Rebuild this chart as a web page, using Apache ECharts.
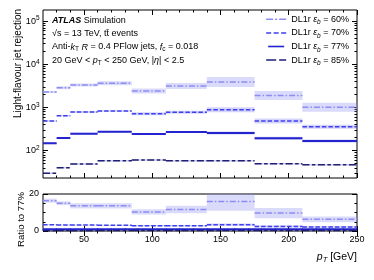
<!DOCTYPE html>
<html><head><meta charset="utf-8">
<script src="https://cdn.jsdelivr.net/npm/echarts@6.0.0/dist/echarts.min.js"></script>
<style>html,body{margin:0;padding:0;background:#fff;}#chart{width:374px;height:280px;}</style>
</head><body><div id="chart"></div>
<script>
// ---- data ----
const binEdges = [20, 30, 40, 60, 85, 110, 140, 175, 210, 250];

const rej60   = [2285, 2870, 3320, 3630, 2410, 3150, 3890, 1895, 1010];
const rej60Lo = [2165, 2650, 3065, 3265, 2110, 2685, 2980, 1490, 795];
const rej60Hi = [2410, 3110, 3595, 4035, 2755, 3695, 5075, 2410, 1285];
const rej70   = [487, 645, 787, 830, 719, 773, 890, 487, 359];
const rej70Lo = [466, 618, 754, 795, 664, 714, 779, 426, 323];
const rej70Hi = [508, 673, 822, 866, 779, 837, 1017, 557, 399];
const rej77   = [148, 197, 248, 275, 244, 271, 257, 194, 168];
const rej77Lo = [142, 189, 238, 263, 233, 259, 237, 179, 155];
const rej77Hi = [155, 206, 259, 287, 255, 283, 278, 210, 182];
const rej85   = [30, 40.4, 49.2, 58.8, 61, 58.8, 58.8, 50, 47.4];
const rej85Lo = [28.8, 38.8, 47.3, 56.5, 58.6, 56.5, 56.5, 48, 45.5];
const rej85Hi = [31.2, 42, 51.2, 61.2, 63.4, 61.2, 61.2, 52, 49.3];

const ratio60   = [16.4, 15.0, 13.6, 13.6, 10.3, 11.6, 15.9, 9.7, 6.3];
const ratio60Lo = [15.3, 14.0, 12.2, 12.2, 8.9, 9.6, 11.0, 6.9, 4.7];
const ratio60Hi = [17.5, 16.0, 15.0, 15.0, 11.7, 13.6, 20.8, 12.5, 7.9];
const ratio70   = [3.4, 3.3, 3.2, 3.1, 2.9, 2.9, 3.4, 2.5, 2.2];
const ratio70Lo = [3.1, 3.0, 2.9, 2.8, 2.5, 2.5, 2.8, 1.9, 1.7];
const ratio70Hi = [3.7, 3.6, 3.5, 3.4, 3.3, 3.3, 4.0, 3.1, 2.7];
const ratio77   = [1, 1, 1, 1, 1, 1, 1, 1, 1];
const ratio77Lo = [0.95, 0.95, 0.95, 0.95, 0.95, 0.95, 0.92, 0.92, 0.92];
const ratio77Hi = [1.05, 1.05, 1.05, 1.05, 1.05, 1.05, 1.08, 1.08, 1.08];
const ratio85   = [0.20, 0.21, 0.20, 0.21, 0.25, 0.22, 0.23, 0.26, 0.28];

const xMajorTicks = [50, 100, 150, 200, 250];
const xMinorTicks = [30, 40, 60, 70, 80, 90, 110, 120, 130, 140, 160, 170, 180, 190, 210, 220, 230, 240];
const yMajorTicks = [100, 1000, 10000, 100000];
const yMinorTicks = [30, 40, 50, 60, 70, 80, 90, 200, 300, 400, 500, 600, 700, 800, 900,
  2000, 3000, 4000, 5000, 6000, 7000, 8000, 9000, 20000, 30000, 40000, 50000, 60000, 70000, 80000, 90000];
const ratioMajorTicks = [0, 20];
const ratioMinorTicks = [5, 10, 15];

const legendNames = ['DL1r eb = 60%', 'DL1r eb = 70%', 'DL1r eb = 77%', 'DL1r eb = 85%'];
const legendPct = ['60%', '70%', '77%', '85%'];

// ---- styles ----
const F = 'Liberation Sans, Arial, Helvetica, sans-serif';
const C60 = '#8c8cf2', C70 = '#3f3fee', C77 = '#2323cf', C85 = '#1e1e78';
const B60 = 'rgba(140,140,242,0.32)', B70 = 'rgba(63,63,238,0.22)', B77 = 'rgba(35,35,207,0.22)', B85 = 'rgba(30,30,120,0.22)';
const D60 = [6, 2, 1.5, 2], D70 = [4.5, 2], D77 = 'solid', D85 = [7, 2.5, 3.5, 2.5];

const YMIN = 23.3, YMAX = 180700;

function bandSeries(xi, yi, lo, hi, color) {
  const data = lo.map((l, i) => [binEdges[i], binEdges[i + 1], l, hi[i]]);
  return {
    type: 'custom', xAxisIndex: xi, yAxisIndex: yi, clip: true, silent: true, z: 1,
    encode: { x: [0, 1], y: [2, 3] },
    renderItem: function (params, api) {
      const a = api.coord([api.value(0), api.value(3)]);
      const b = api.coord([api.value(1), api.value(2)]);
      return { type: 'rect', shape: { x: a[0], y: a[1], width: b[0] - a[0], height: b[1] - a[1] }, style: { fill: color } };
    },
    data: data
  };
}
function stepSeries(name, xi, yi, vals, color, width, dash) {
  const data = [];
  vals.forEach((v, i) => {
    data.push([binEdges[i], v]);
    data.push([binEdges[i + 1], v]);
    data.push([binEdges[i + 1], '-']);
  });
  return {
    type: 'line', name: name, xAxisIndex: xi, yAxisIndex: yi, data: data, symbol: 'none', showSymbol: false,
    color: color, lineStyle: { color: color, width: width, type: dash, cap: 'butt' }, z: 3, silent: true, connectNulls: false
  };
}

function xAx(gi, pos, ticks, len, labels) {
  return {
    type: 'value', gridIndex: gi, position: pos, min: 20, max: 250,
    axisLine: { show: false }, splitLine: { show: false },
    axisTick: { show: true, inside: true, length: len, customValues: ticks, lineStyle: { color: '#000', width: 1 } },
    axisLabel: labels ? { show: true, customValues: xMajorTicks, margin: 4, fontSize: 9, fontFamily: F, color: '#000' } : { show: false }
  };
}
const supRich = {
  b: { fontFamily: F, fontSize: 9, lineHeight: 12, color: '#000' },
  sup: { fontFamily: F, fontSize: 6.5, verticalAlign: 'top', color: '#000' }
};
function yLog(pos, ticks, len, labels) {
  return {
    type: 'log', logBase: 10, gridIndex: 0, position: pos, min: YMIN, max: YMAX,
    axisLine: { show: false }, splitLine: { show: false }, minorTick: { show: false },
    axisTick: { show: true, inside: true, length: len, customValues: ticks, lineStyle: { color: '#000', width: 1 } },
    axisLabel: labels ? {
      show: true, customValues: yMajorTicks, margin: 3.5, color: '#000',
      formatter: v => '{b|10}{sup|' + Math.round(Math.log10(v)) + '}', rich: supRich
    } : { show: false }
  };
}
function yRatio(pos, ticks, len, labels) {
  return {
    type: 'value', gridIndex: 1, position: pos, min: 0, max: 20,
    axisLine: { show: false }, splitLine: { show: false },
    axisTick: { show: true, inside: true, length: len, customValues: ticks, lineStyle: { color: '#000', width: 1 } },
    axisLabel: labels ? { show: true, customValues: ratioMajorTicks, margin: 4, fontSize: 9, fontFamily: F, color: '#000' } : { show: false }
  };
}

const txt = {
  n: { fontFamily: F, fontSize: 9, lineHeight: 12, fill: '#000' },
  b: { fontFamily: F, fontSize: 9, lineHeight: 12, fontWeight: 'bold', fontStyle: 'italic', fill: '#000' },
  i: { fontFamily: F, fontSize: 9, lineHeight: 12, fontStyle: 'italic', fill: '#000' },
  s: { fontFamily: F, fontSize: 6.5, verticalAlign: 'bottom', fill: '#000' },
  si: { fontFamily: F, fontSize: 6.5, verticalAlign: 'bottom', fontStyle: 'italic', fill: '#000' },
  N: { fontFamily: F, fontSize: 10.5, lineHeight: 13, fill: '#000' },
  I: { fontFamily: F, fontSize: 10.5, lineHeight: 13, fontStyle: 'italic', fill: '#000' },
  SI: { fontFamily: F, fontSize: 7.5, verticalAlign: 'bottom', fontStyle: 'italic', fill: '#000' }
};
function label(x, y, text) {
  return { type: 'text', x: x, y: y, silent: true, style: { text: text, rich: txt, align: 'left', verticalAlign: 'middle', fontFamily: F, fontSize: 9, fill: '#000' } };
}

const option = {
  animation: false,
  backgroundColor: '#fff',
  grid: [
    { left: 43, top: 10, width: 314, height: 168, show: true, borderColor: '#000', borderWidth: 1, backgroundColor: 'transparent' },
    { left: 43, top: 194, width: 314, height: 37, show: true, borderColor: '#000', borderWidth: 1, backgroundColor: 'transparent' }
  ],
  xAxis: [
    xAx(0, 'bottom', xMajorTicks, 5, false), xAx(0, 'top', xMajorTicks, 5, false),
    xAx(0, 'bottom', xMinorTicks, 2.5, false), xAx(0, 'top', xMinorTicks, 2.5, false),
    xAx(1, 'bottom', xMajorTicks, 5, true), xAx(1, 'top', xMajorTicks, 5, false),
    xAx(1, 'bottom', xMinorTicks, 2.5, false), xAx(1, 'top', xMinorTicks, 2.5, false)
  ],
  yAxis: [
    yLog('left', yMajorTicks, 5, true), yLog('right', yMajorTicks, 5, false),
    yLog('left', yMinorTicks, 2.5, false), yLog('right', yMinorTicks, 2.5, false),
    yRatio('left', ratioMajorTicks, 5, true), yRatio('right', ratioMajorTicks, 5, false),
    yRatio('left', ratioMinorTicks, 2.5, false), yRatio('right', ratioMinorTicks, 2.5, false)
  ],
  legend: {
    data: [
      { name: legendNames[0], icon: 'path://M0,0h7v1.5h-7z M9,0h2v1.5h-2z M13,0h7v1.5h-7z' },
      { name: legendNames[1], icon: 'path://M0,0h5v1.5h-5z M7.5,0h5v1.5h-5z M15,0h5v1.5h-5z' },
      { name: legendNames[2], icon: 'path://M0,0h20v2h-20z' },
      { name: legendNames[3], icon: 'path://M0,0h10v1.5h-10z M13,0h7v1.5h-7z' }
    ],
    orient: 'vertical', right: 25, top: 12.5, itemWidth: 20, itemHeight: 1.6, itemGap: 0, padding: 0,
    selectedMode: false,
    formatter: n => '{n|DL1r }{i|ε}{si|b}{n| = ' + legendPct[legendNames.indexOf(n)] + '}',
    textStyle: {
      fontFamily: F, fontSize: 9, color: '#000', lineHeight: 13.6,
      rich: {
        n: { fontFamily: F, fontSize: 9, lineHeight: 13.6, color: '#000' },
        i: { fontFamily: F, fontSize: 9, lineHeight: 13.6, fontStyle: 'italic', color: '#000' },
        si: { fontFamily: F, fontSize: 6.5, verticalAlign: 'bottom', fontStyle: 'italic', color: '#000' }
      }
    }
  },
  graphic: [
    label(52, 20.7, '{b|ATLAS}{n| Simulation}'),
    label(52, 33.5, '{n|√s = 13 TeV, tt\u0304 events}'),
    label(52, 47, '{n|Anti-}{i|k}{s|T}{n| }{i|R}{n| = 0.4 PFlow jets, }{i|f}{s|c}{n| = 0.018}'),
    label(52, 60.5, '{n|20 GeV < }{i|p}{s|T}{n| < 250 GeV, |}{i|η}{n|| < 2.5}'),
    { type: 'text', x: 357, y: 257.5, silent: true, style: { text: '{I|p}{SI|T}{N| [GeV]}', rich: txt, align: 'right', verticalAlign: 'middle', fontFamily: F, fontSize: 10.5, fill: '#000' } },
    { type: 'text', x: 18.5, y: 9, rotation: Math.PI / 2, silent: true, style: { text: 'Light-flavour jet rejection', align: 'right', verticalAlign: 'middle', fontFamily: F, fontSize: 10, fill: '#000' } },
    { type: 'text', x: 21.5, y: 192, rotation: Math.PI / 2, silent: true, style: { text: 'Ratio to 77%', align: 'right', verticalAlign: 'middle', fontFamily: F, fontSize: 9.6, fill: '#000' } }
  ],
  series: [
    bandSeries(0, 0, rej60Lo, rej60Hi, B60),
    bandSeries(0, 0, rej70Lo, rej70Hi, B70),
    bandSeries(0, 0, rej77Lo, rej77Hi, B77),
    bandSeries(0, 0, rej85Lo, rej85Hi, B85),
    stepSeries(legendNames[0], 0, 0, rej60, C60, 1.5, D60),
    stepSeries(legendNames[1], 0, 0, rej70, C70, 1.5, D70),
    stepSeries(legendNames[2], 0, 0, rej77, C77, 2, D77),
    stepSeries(legendNames[3], 0, 0, rej85, C85, 1.5, D85),
    bandSeries(4, 4, ratio60Lo, ratio60Hi, B60),
    bandSeries(4, 4, ratio70Lo, ratio70Hi, B70),
    bandSeries(4, 4, ratio77Lo, ratio77Hi, B77),
    stepSeries('r60', 4, 4, ratio60, C60, 1.5, D60),
    stepSeries('r70', 4, 4, ratio70, C70, 1.5, D70),
    stepSeries('r77', 4, 4, ratio77, C77, 2, D77),
    stepSeries('r85', 4, 4, ratio85, C85, 1.5, D85)
  ]
};
const chart = echarts.init(document.getElementById('chart'), null, { renderer: 'canvas' });
chart.setOption(option);
</script></body></html>
